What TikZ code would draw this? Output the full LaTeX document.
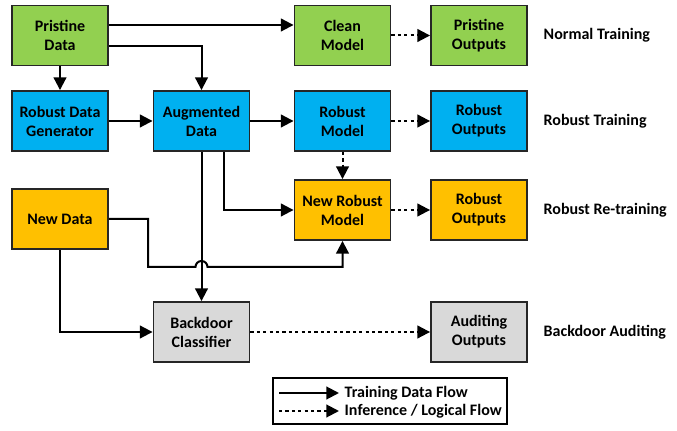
\documentclass[tikz,border=0pt]{standalone}
\usepackage{fontspec}
\setmainfont{Carlito}
\usepackage{tikz}
\usetikzlibrary{arrows.meta}
\definecolor{xlgreen}{RGB}{146,208,80}
\definecolor{xlblue}{RGB}{0,176,240}
\definecolor{xlorange}{RGB}{255,192,0}
\definecolor{xlgray}{RGB}{217,217,217}

\begin{document}
\begin{tikzpicture}[x=0.75pt, y=0.75pt,
    font=\fontsize{12}{14.2}\selectfont\bfseries,
    box/.style={draw=black!85, line width=1.4pt, minimum width=72pt, minimum height=45pt, align=center, inner sep=1pt},
    flow/.style={line width=1.5pt, -{Triangle[length=9.5pt, width=9.5pt]}},
    logic/.style={flow, dash pattern=on 2.4pt off 2.4pt},
    rowlabel/.style={anchor=west}]
  \useasboundingbox (0,0) rectangle (677,431);
  % boxes
  \node[box, fill=xlgreen] (pristine) at (60,395.5) {Pristine\\Data};
  \node[box, fill=xlgreen] (clean) at (342.5,395.5) {Clean\\Model};
  \node[box, fill=xlgreen] (pout) at (479,395.5) {Pristine\\Outputs};
  \node[box, fill=xlblue] (gen) at (60,310) {Robust Data\\Generator};
  \node[box, fill=xlblue] (aug) at (201.5,310) {Augmented\\Data};
  \node[box, fill=xlblue] (robust) at (342.5,310) {Robust\\Model};
  \node[box, fill=xlblue] (rout) at (479,310) {Robust\\Outputs};
  \node[box, fill=xlorange] (newdata) at (60,212) {New Data};
  \node[box, fill=xlorange] (newrob) at (342.5,221) {New Robust\\Model};
  \node[box, fill=xlorange] (nrout) at (479,221) {Robust\\Outputs};
  \node[box, fill=xlgray] (backdoor) at (201.5,99) {Backdoor\\Classifier};
  \node[box, fill=xlgray] (audit) at (479,99) {Auditing\\Outputs};
  % row labels
  \node[rowlabel] (lnormal) at (539,395.5) {Normal Training};
  \node[rowlabel] (lrobust) at (539,310) {Robust Training};
  \node[rowlabel] (lretrain) at (539,221) {Robust Re-training};
  \node[rowlabel] (laudit) at (539,99) {Backdoor Auditing};
  % training data flow
  \draw[flow] (pristine.east |- 0,406) -- (clean.west |- 0,406);
  \draw[flow] (pristine.east |- 0,384.5) -| (aug.north);
  \draw[flow] (pristine) -- (gen);
  \draw[flow] (gen) -- (aug);
  \draw[flow] (aug) -- (robust);
  \draw[flow] (aug) -- (backdoor);
  \draw[flow] (aug.south -| 224,0) |- (newrob.west);
  \draw[flow] (newdata.east) -| (148,164) -- (195.5,164) arc (180:0:6) -| (newrob.south);
  \draw[flow] (newdata.south) |- (backdoor.west);
  % inference / logical flow
  \draw[logic] (clean) -- (pout);
  \draw[logic] (robust) -- (rout);
  \draw[logic] (robust) -- (newrob);
  \draw[logic] (newrob) -- (nrout);
  \draw[logic] (backdoor) -- (audit);
  % legend
  \draw[line width=1.4pt] (273,7) rectangle (507,53);
  \coordinate (ta) at (279,38);
  \coordinate (tb) at (339,38);
  \coordinate (la) at (279,20);
  \coordinate (lb) at (339,20);
  \draw[flow] (ta) -- (tb);
  \draw[logic] (la) -- (lb);
  \node[anchor=west] (ltrain) at (340,38) {Training Data Flow};
  \node[anchor=west] (llogic) at (340,20) {Inference / Logical Flow};
\end{tikzpicture}
\end{document}
